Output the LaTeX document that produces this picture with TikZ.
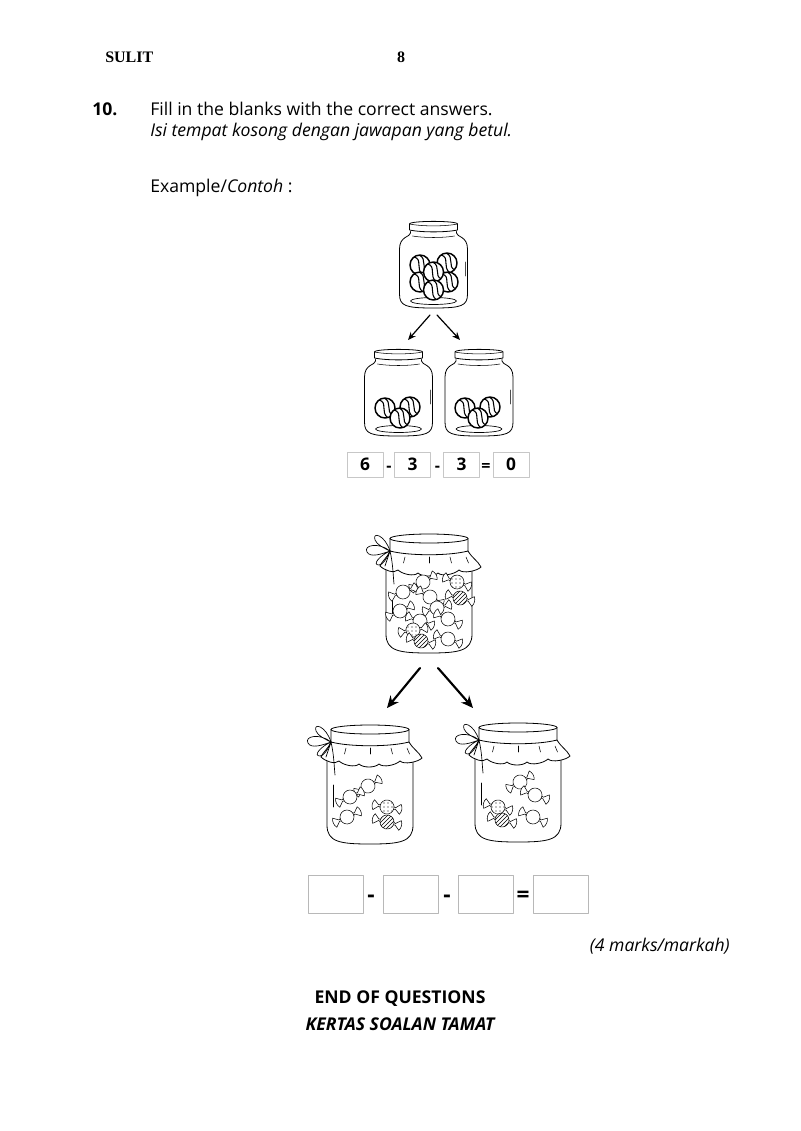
\documentclass[tikz,border=0pt]{standalone}
\usepackage{fontspec}
\setmainfont{Open Sans}
\newfontfamily\headfont{Liberation Serif}
\usetikzlibrary{positioning,patterns,arrows.meta}

\begin{document}
\begin{tikzpicture}[x=.75pt,y=-.75pt,line cap=round,line join=round,
  txt/.style={inner sep=0pt,font=\fontsize{13.2}{16}\selectfont},
  headtxt/.style={inner sep=0pt,font=\headfont\bfseries\fontsize{12}{14}\selectfont},
  numbox/.style={draw=black!22,line width=.7pt,minimum width=27pt,minimum height=18.75pt,inner sep=0pt,font=\fontsize{13}{15}\selectfont\bfseries},
  blankbox/.style={draw=black!28,line width=.7pt,minimum width=41.25pt,minimum height=28.5pt,inner sep=0pt},
  opsign/.style={inner sep=0pt,anchor=base,font=\fontsize{12}{14}\selectfont\bfseries},
  bigsign/.style={inner sep=0pt,anchor=base,font=\fontsize{17}{19}\selectfont\bfseries},
  thinarrow/.style={-{Stealth[length=6pt,width=5pt]},line width=.9pt},
  thickarrow/.style={-{Stealth[length=9pt,width=8pt]},line width=1.6pt},
  plainwrap/.style={},
  dotwrap/.style={postaction={pattern=dots}},
  stripewrap/.style={postaction={pattern=north east lines}},
  pics/marble/.style={code={
    \filldraw[fill=white,line width=1.1pt] (0,0) circle (10);
    \begin{scope}
      \clip (0,0) circle (10);
      \draw[line width=.8pt] (-6,-8) .. controls (3,-6) and (-5,4) .. (3,10);
      \draw[line width=.8pt] (-1,-10) .. controls (8,-6) and (0,4) .. (8,7);
    \end{scope}
  }},
  pics/marblejar/.style={code={
    \draw[line width=.6pt] (-24,2) .. controls (-24,-1.5) and (24,-1.5) .. (24,2) -- (24,8)
      .. controls (12,10.5) and (-12,10.5) .. (-24,8) -- cycle;
    \draw[line width=.4pt] (-24,2) .. controls (-12,4.5) and (12,4.5) .. (24,2);
    \draw[line width=.6pt] (-23,9.5) -- (-23,11) .. controls (-23,15) and (-34,14) .. (-34,27)
      -- (-34,72) .. controls (-34,84) and (-28,86) .. (0,86)
      .. controls (28,86) and (34,84) .. (34,72) -- (34,27)
      .. controls (34,14) and (23,15) .. (23,11) -- (23,9.5);
    \draw[line width=.4pt] (-21,14) .. controls (-10,16) and (10,16) .. (21,14);
    \draw[line width=.5pt] (0,79) ellipse (23 and 3.5);
    \draw[line width=.6pt,black!70] (31.5,40) -- (31.5,54);
  }},
  pics/candy/.style={code={
    \foreach \s in {1,-1}
      \filldraw[fill=white,line width=.4pt,xscale=\s] (5.5,-2) -- (8.5,-.7) -- (13.5,-5)
        .. controls (15.5,-2) and (15.5,2) .. (13.5,5) -- (8.5,.7) -- (5.5,2);
    \filldraw[fill=white,line width=.4pt,#1] (0,0) circle (7);
  }},
  pics/candyjar/.style={code={
    % body
    \draw[line width=.6pt] (-43,30) -- (-43,100) .. controls (-43,117) and (-30,119) .. (0,119)
      .. controls (30,119) and (43,117) .. (43,100) -- (43,30);
    % cloth
    \filldraw[fill=white,line width=.6pt] (-39,17) .. controls (-42,24) and (-47,27) .. (-49,32)
      .. controls +(4,4) and +(-4,4) .. (-31,36)
      .. controls +(4,4) and +(-4,4) .. (-11,39)
      .. controls +(4,4) and +(-4,4) .. (9,39)
      .. controls +(4,4) and +(-4,4) .. (30,36)
      .. controls +(4,4) and +(-4,4) .. (52,33)
      .. controls (49,27) and (43,24) .. (39,17) -- cycle;
    \filldraw[fill=white,line width=.6pt] (-39,4.5) -- (-39,17) .. controls (-20,22) and (20,22) .. (39,17) -- (39,4.5);
    \filldraw[fill=white,line width=.6pt] (0,4.5) ellipse (39 and 4.5);
    \foreach \fx/\fd in {-24/-1.5,0/0,21/1.5,37/2.5}
      \draw[line width=.4pt] (\fx,23) -- ++(\fd,6);
    % bow
    \draw[line width=.5pt] (-39,17) .. controls (-44,1) and (-57,-3) .. (-54,6)
      .. controls (-52,11) and (-45,14) .. (-39,17)
      .. controls (-50,8) and (-66,11) .. (-62,18) .. controls (-59,24) and (-47,20) .. (-39,17)
      .. controls (-50,22) and (-57,31) .. (-50,31) .. controls (-46,31) and (-42,24) .. (-39,17);
    \draw[line width=.5pt] (-39,17) .. controls (-41,24) .. (-44,32);
    \draw[line width=.5pt] (-39,17) .. controls (-36,30) and (-36,40) .. (-35,50);
    \draw[line width=.7pt] (-37,60) -- (-37,82);
  }}]
\useasboundingbox (0,0) rectangle (800,1131);

% header and question
\node[headtxt,anchor=base west] (sulit) at (105,63) {SULIT};
\node[headtxt,anchor=base] (pageno) at (401,63) {8};
\node[txt,anchor=base west] (qno) at (92,115) {\bfseries 10.};
\node[txt,anchor=base west] (qen) at (150,115) {Fill in the blanks with the correct answers.};
\node[txt,anchor=base west] (qms) at (150,137) {\itshape Isi tempat kosong dengan jawapan yang betul.};
\node[txt,anchor=base west] (example) at (150,192) {Example/\textit{Contoh} :};

% example: marbles
\pic at (433.5,222) {marblejar};
\foreach \mx/\my in {-13.5/43,13.5/41,-13.5/60,14.5/60,0/50,0/68}
  \pic at (433.5+\mx,222+\my) {marble};
\pic at (398.5,350) {marblejar};
\foreach \mx/\my in {-13.5/58,11.5/57,1.5/68}
  \pic at (398.5+\mx,350+\my) {marble};
\pic at (479,350) {marblejar};
\foreach \mx/\my in {-14/58,11/57,-1/68}
  \pic at (479+\mx,350+\my) {marble};
\coordinate (exsplitl) at (430,315);
\coordinate (exsplitr) at (437,315);
\coordinate (exleft) at (408,340);
\coordinate (exright) at (460,340);
\draw[thinarrow] (exsplitl) -- (exleft);
\draw[thinarrow] (exsplitr) -- (exright);

\node[numbox] (ex1) at (365,464.5) {6};
\node[opsign] (exm1) at (389,471) {-};
\node[numbox] (ex2) at (412.5,464.5) {3};
\node[opsign] (exm2) at (437.5,471) {-};
\node[numbox] (ex3) at (461.5,464.5) {3};
\node[opsign] (exeq) at (486,471) {=};
\node[numbox] (ex4) at (511,464.5) {0};

% question: sweets
\pic at (429,534) {candyjar};
\foreach \cx/\cy/\ca in {423/582/30,403/592/20,430/597/-30,400/611/25,437/608/15,
    420/621/-20,448/619/-25,448/639/-20}
  \pic[rotate=\ca] at (\cx,\cy) {candy=plainwrap};
\foreach \cx/\cy/\ca in {457/582/-20,413/630/10}
  \pic[rotate=\ca] at (\cx,\cy) {candy=dotwrap};
\foreach \cx/\cy/\ca in {460/598/-15,421/641/-15}
  \pic[rotate=\ca] at (\cx,\cy) {candy=stripewrap};

\pic at (370,725) {candyjar};
\foreach \cx/\cy/\ca in {368/786/30,350/797/25,347/817/25}
  \pic[rotate=\ca] at (\cx,\cy) {candy=plainwrap};
\pic[rotate=-10] at (387,807) {candy=dotwrap};
\pic[rotate=-15] at (387,822) {candy=stripewrap};

\pic at (518,723) {candyjar};
\foreach \cx/\cy/\ca in {520/782/30,535/795/-20,533/817/-25}
  \pic[rotate=\ca] at (\cx,\cy) {candy=plainwrap};
\pic[rotate=-15] at (498,807) {candy=dotwrap};
\pic[rotate=-15] at (502,820) {candy=stripewrap};

\coordinate (qsplitl) at (420,668);
\coordinate (qsplitr) at (438,668);
\coordinate (qleft) at (387,708);
\coordinate (qright) at (473,708);
\draw[thickarrow] (qsplitl) -- (qleft);
\draw[thickarrow] (qsplitr) -- (qright);

\node[blankbox] (ans1) at (336,894) {};
\node[bigsign] (ansm1) at (371,902) {-};
\node[blankbox] (ans2) at (410.5,894) {};
\node[bigsign] (ansm2) at (447,902) {-};
\node[blankbox] (ans3) at (485.5,894) {};
\node[bigsign] (anseq) at (523,902) {=};
\node[blankbox] (ans4) at (560.5,894) {};

% footer
\node[txt,anchor=base east] (marks) at (730,951) {\itshape (4 marks/markah)};
\node[txt,anchor=base] (endq) at (400,1003) {\bfseries END OF QUESTIONS};
\node[txt,anchor=base] (tamat) at (400,1030) {\bfseries\itshape KERTAS SOALAN TAMAT};
\end{tikzpicture}
\end{document}
